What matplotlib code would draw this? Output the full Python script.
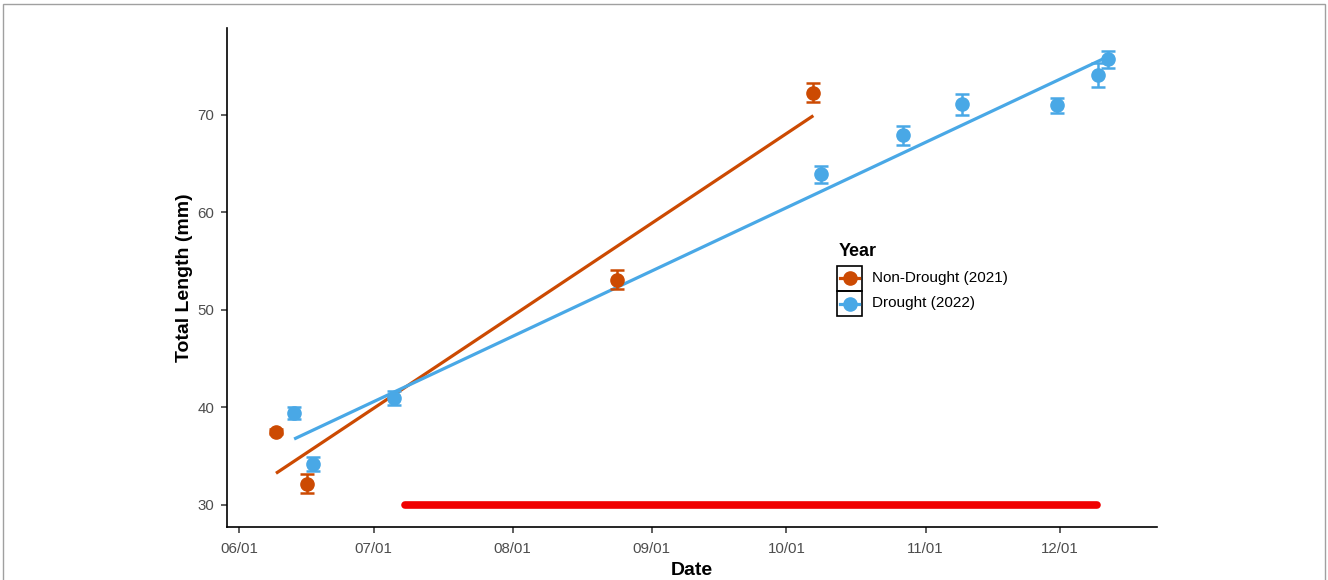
import numpy as np
import pandas as pd
import matplotlib
matplotlib.use("Agg")
import matplotlib.pyplot as plt
import matplotlib.dates as mdates
from matplotlib.patches import Rectangle
from matplotlib.lines import Line2D

# ---- data ----
nd_dates = ["2022-06-09 06:00", "2022-06-16 05:00", "2022-08-24 07:00", "2022-10-07 00:00"]
nd_mean = [37.5, 32.2, 53.1, 72.3]
nd_err = [0.25, 1.0, 1.0, 0.95]

dr_dates = ["2022-06-13 07:00", "2022-06-17 12:00", "2022-07-05 14:00", "2022-10-08 17:00",
            "2022-10-27 00:00", "2022-11-09 05:00", "2022-11-30 07:00", "2022-12-09 12:00",
            "2022-12-11 17:00"]
dr_mean = [39.4, 34.2, 41.0, 63.9, 67.9, 71.1, 71.0, 74.1, 75.7]
dr_err = [0.6, 0.7, 0.7, 0.85, 1.0, 1.1, 0.75, 1.2, 0.9]

red_dates = ["2022-07-08 00:00", "2022-12-09 06:00"]
red_value = [30, 30]

series_labels = ["Non-Drought (2021)", "Drought (2022)"]
orange = "#CC4A02"
blue = "#49A8E6"

W, H = 1328, 580
plt.rcParams['font.family'] = ['Liberation Sans', 'DejaVu Sans']

fig = plt.figure(figsize=(W / 100, H / 100), dpi=100, facecolor='white')
ax = fig.add_axes([227 / W, 1 - 527 / H, (1157 - 227) / W, (527 - 28) / H])


def to_num(dates):
    return mdates.date2num(pd.to_datetime(dates).to_pydatetime())


for dates, mean, err, col in [(nd_dates, nd_mean, nd_err, orange),
                              (dr_dates, dr_mean, dr_err, blue)]:
    x = to_num(dates)
    y = np.array(mean)
    # linear fit through the means, spanning the data range
    k, b = np.polyfit(x, y, 1)
    xs = np.array([x.min(), x.max()])
    ax.plot(xs, k * xs + b, color=col, lw=2.3, zorder=2, solid_capstyle='butt')
    ax.errorbar(x, y, yerr=err, fmt='o', color=col, ms=9.5, elinewidth=1.8,
                capsize=5, capthick=1.8, zorder=3)

ax.plot(to_num(red_dates), red_value, color='#F00000', lw=5.5,
        solid_capstyle='round', zorder=2)

ax.set_xlim(to_num(["2022-05-29 08:00"])[0], to_num(["2022-12-22 14:00"])[0])
ax.set_ylim(27.74, 78.92)
ax.set_yticks([30, 40, 50, 60, 70])
ax.xaxis.set_major_locator(mdates.MonthLocator())
ax.xaxis.set_major_formatter(mdates.DateFormatter('%m/%d'))

for s in ['top', 'right']:
    ax.spines[s].set_visible(False)
for s in ['left', 'bottom']:
    ax.spines[s].set_linewidth(1.2)
    ax.spines[s].set_color('black')
ax.tick_params(axis='both', length=4, width=1.1, color='#333333',
               labelsize=10.8, labelcolor='#4D4D4D')
ax.tick_params(axis='x', pad=6.5)
ax.tick_params(axis='y', pad=5)

ax.set_xlabel('Date', fontsize=14, fontweight='bold', labelpad=4.5)
ax.set_ylabel('Total Length (mm)', fontsize=14, fontweight='bold', labelpad=3)

# ---- legend drawn by hand (ggplot-style boxed keys) ----
fig.text(839 / W, 1 - 251 / H, 'Year', fontsize=13, fontweight='bold',
         ha='left', va='center')
key_tops = [266, 291]
for top, col, lab in zip(key_tops, [orange, blue], series_labels):
    fig.patches.append(Rectangle((837 / W, 1 - (top + 25) / H), 25 / W, 25 / H,
                                 transform=fig.transFigure, fill=False,
                                 edgecolor='black', lw=1.2))
    cy = 1 - (top + 12.5) / H
    fig.lines.append(Line2D([840 / W, 859 / W], [cy, cy], transform=fig.transFigure,
                            color=col, lw=2.3))
    fig.lines.append(Line2D([849.5 / W], [cy], transform=fig.transFigure,
                            color=col, marker='o', markersize=9.5, ls='none'))
    fig.text(872 / W, cy, lab, fontsize=11, ha='left', va='center', color='black')

# thin grey frame around the figure
fig.patches.append(Rectangle((3 / W, -0.05), (1325 - 3) / W, 1 - 4 / H + 0.05,
                             transform=fig.transFigure, fill=False,
                             edgecolor='#A0A0A0', lw=1.0))

fig.savefig('out.png', dpi=100, facecolor='white')
